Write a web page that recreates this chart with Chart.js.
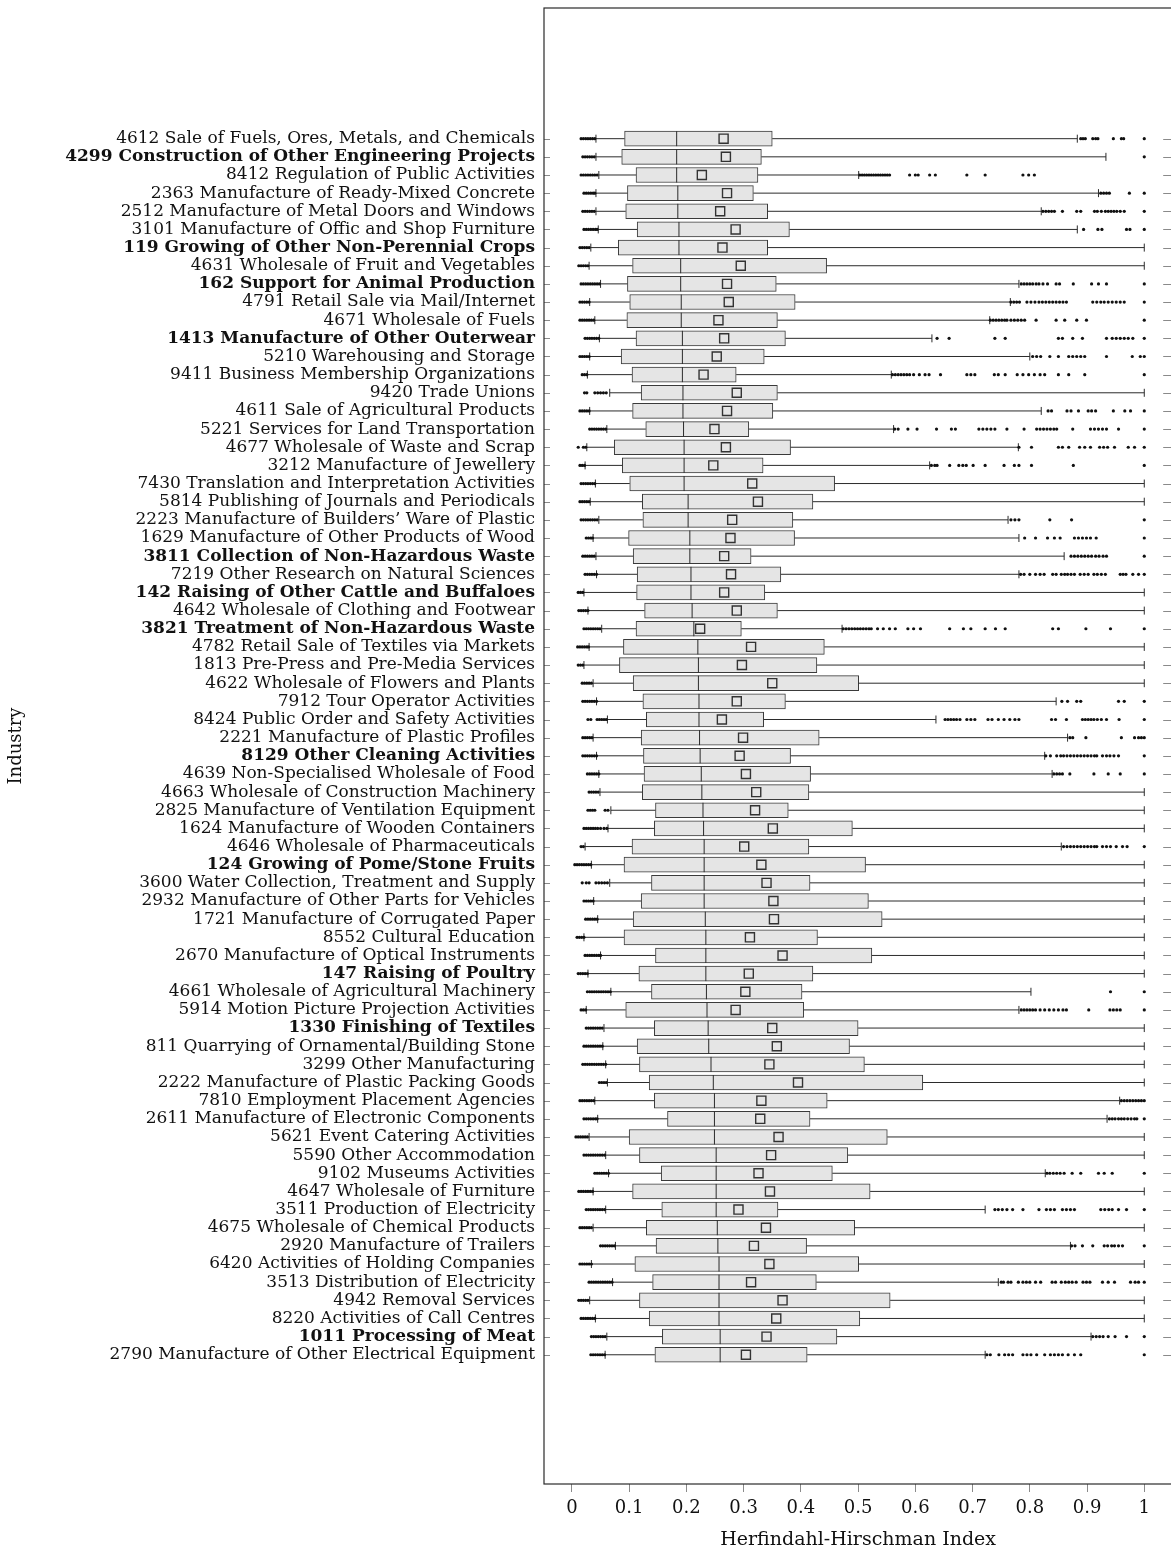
<!DOCTYPE html>
<html>
<head>
<meta charset="utf-8">
<script src="https://cdn.jsdelivr.net/npm/chart.js@4.4.1/dist/chart.umd.min.js"></script>
<style>
html, body { margin: 0; padding: 0; background: #fff; overflow: hidden; }
#wrap { width: 1180px; height: 1551px; }
canvas { display: block; }
</style>
</head>
<body>
<div id="wrap"><canvas id="c" width="1180" height="1551"></canvas></div>
<script>
const industries = [
  "4612 Sale of Fuels, Ores, Metals, and Chemicals",
  "4299 Construction of Other Engineering Projects",
  "8412 Regulation of Public Activities",
  "2363 Manufacture of Ready-Mixed Concrete",
  "2512 Manufacture of Metal Doors and Windows",
  "3101 Manufacture of Offic and Shop Furniture",
  "119 Growing of Other Non-Perennial Crops",
  "4631 Wholesale of Fruit and Vegetables",
  "162 Support for Animal Production",
  "4791 Retail Sale via Mail/Internet",
  "4671 Wholesale of Fuels",
  "1413 Manufacture of Other Outerwear",
  "5210 Warehousing and Storage",
  "9411 Business Membership Organizations",
  "9420 Trade Unions",
  "4611 Sale of Agricultural Products",
  "5221 Services for Land Transportation",
  "4677 Wholesale of Waste and Scrap",
  "3212 Manufacture of Jewellery",
  "7430 Translation and Interpretation Activities",
  "5814 Publishing of Journals and Periodicals",
  "2223 Manufacture of Builders\u2019 Ware of Plastic",
  "1629 Manufacture of Other Products of Wood",
  "3811 Collection of Non-Hazardous Waste",
  "7219 Other Research on Natural Sciences",
  "142 Raising of Other Cattle and Buffaloes",
  "4642 Wholesale of Clothing and Footwear",
  "3821 Treatment of Non-Hazardous Waste",
  "4782 Retail Sale of Textiles via Markets",
  "1813 Pre-Press and Pre-Media Services",
  "4622 Wholesale of Flowers and Plants",
  "7912 Tour Operator Activities",
  "8424 Public Order and Safety Activities",
  "2221 Manufacture of Plastic Profiles",
  "8129 Other Cleaning Activities",
  "4639 Non-Specialised Wholesale of Food",
  "4663 Wholesale of Construction Machinery",
  "2825 Manufacture of Ventilation Equipment",
  "1624 Manufacture of Wooden Containers",
  "4646 Wholesale of Pharmaceuticals",
  "124 Growing of Pome/Stone Fruits",
  "3600 Water Collection, Treatment and Supply",
  "2932 Manufacture of Other Parts for Vehicles",
  "1721 Manufacture of Corrugated Paper",
  "8552 Cultural Education",
  "2670 Manufacture of Optical Instruments",
  "147 Raising of Poultry",
  "4661 Wholesale of Agricultural Machinery",
  "5914 Motion Picture Projection Activities",
  "1330 Finishing of Textiles",
  "811 Quarrying of Ornamental/Building Stone",
  "3299 Other Manufacturing",
  "2222 Manufacture of Plastic Packing Goods",
  "7810 Employment Placement Agencies",
  "2611 Manufacture of Electronic Components",
  "5621 Event Catering Activities",
  "5590 Other Accommodation",
  "9102 Museums Activities",
  "4647 Wholesale of Furniture",
  "3511 Production of Electricity",
  "4675 Wholesale of Chemical Products",
  "2920 Manufacture of Trailers",
  "6420 Activities of Holding Companies",
  "3513 Distribution of Electricity",
  "4942 Removal Services",
  "8220 Activities of Call Centres",
  "1011 Processing of Meat",
  "2790 Manufacture of Other Electrical Equipment"
];

const boldCodes = ["4299","119","162","1413","3811","142","3821","8129","124","147","1330","1011"];

const whiskerLow = [0.042,0.042,0.047,0.042,0.042,0.046,0.033,0.030,0.050,0.031,0.040,0.048,0.031,0.027,0.066,0.031,0.061,0.026,0.023,0.041,0.032,0.047,0.037,0.042,0.043,0.021,0.028,0.052,0.030,0.021,0.037,0.043,0.062,0.037,0.043,0.047,0.049,0.068,0.063,0.023,0.034,0.066,0.038,0.045,0.021,0.050,0.028,0.068,0.025,0.056,0.054,0.059,0.062,0.040,0.045,0.030,0.059,0.064,0.037,0.059,0.037,0.076,0.034,0.071,0.031,0.041,0.061,0.058];
const q1 = [0.092,0.087,0.112,0.097,0.094,0.114,0.081,0.106,0.097,0.101,0.096,0.112,0.086,0.105,0.121,0.106,0.129,0.074,0.088,0.101,0.123,0.124,0.099,0.107,0.114,0.113,0.127,0.112,0.090,0.083,0.107,0.124,0.130,0.121,0.125,0.126,0.123,0.146,0.144,0.105,0.091,0.139,0.121,0.107,0.091,0.146,0.117,0.139,0.094,0.144,0.114,0.118,0.135,0.144,0.167,0.100,0.118,0.156,0.106,0.157,0.130,0.147,0.110,0.141,0.118,0.135,0.158,0.145];
const median = [0.183,0.183,0.183,0.185,0.185,0.187,0.187,0.190,0.190,0.191,0.191,0.193,0.193,0.193,0.194,0.194,0.195,0.196,0.196,0.196,0.203,0.203,0.206,0.206,0.208,0.208,0.210,0.213,0.220,0.221,0.221,0.222,0.222,0.223,0.224,0.226,0.227,0.229,0.230,0.231,0.231,0.231,0.231,0.233,0.234,0.234,0.234,0.235,0.236,0.238,0.239,0.243,0.247,0.249,0.249,0.249,0.252,0.252,0.252,0.252,0.254,0.255,0.257,0.257,0.257,0.257,0.259,0.259];
const mean = [0.265,0.269,0.227,0.271,0.259,0.286,0.263,0.295,0.271,0.274,0.256,0.266,0.253,0.230,0.288,0.271,0.249,0.269,0.247,0.315,0.325,0.280,0.277,0.266,0.278,0.266,0.288,0.224,0.313,0.297,0.350,0.288,0.262,0.299,0.293,0.304,0.322,0.320,0.351,0.301,0.331,0.340,0.352,0.353,0.311,0.368,0.309,0.303,0.286,0.350,0.358,0.345,0.395,0.331,0.329,0.361,0.348,0.326,0.346,0.291,0.339,0.318,0.345,0.313,0.368,0.357,0.340,0.304];
const q3 = [0.350,0.331,0.325,0.317,0.342,0.380,0.342,0.445,0.357,0.390,0.359,0.373,0.336,0.287,0.359,0.351,0.309,0.382,0.334,0.459,0.421,0.386,0.389,0.313,0.365,0.337,0.359,0.296,0.441,0.428,0.501,0.373,0.335,0.432,0.382,0.417,0.414,0.378,0.490,0.414,0.513,0.416,0.518,0.542,0.429,0.524,0.421,0.402,0.405,0.500,0.485,0.511,0.613,0.446,0.416,0.551,0.482,0.455,0.521,0.360,0.494,0.410,0.501,0.427,0.556,0.503,0.463,0.411];
const whiskerHigh = [0.883,0.933,0.501,0.920,0.820,0.883,1.0,1.0,0.781,0.766,0.730,0.629,0.800,0.558,1.0,0.820,0.562,0.780,0.625,1.0,1.0,0.762,0.781,0.860,0.781,1.0,1.0,0.472,1.0,1.0,1.0,0.846,0.636,0.866,0.826,0.839,1.0,1.0,1.0,0.855,1.0,1.0,1.0,1.0,1.0,1.0,1.0,0.802,0.781,1.0,1.0,1.0,1.0,0.957,0.935,1.0,1.0,0.827,1.0,0.722,1.0,0.871,1.0,0.745,1.0,1.0,0.907,0.722];

const lowOutliers = [
  [0.016,0.02,0.024,0.028,0.032,0.036,0.04],
  [0.019,0.023,0.027,0.031,0.035,0.039],
  [0.016,0.02,0.024,0.028,0.032,0.036,0.04,0.044],
  [0.021,0.025,0.029,0.033,0.037,0.04],
  [0.019,0.023,0.027,0.031,0.035,0.039],
  [0.021,0.025,0.029,0.033,0.037,0.041,0.044],
  [0.014,0.018,0.022,0.026,0.03],
  [0.012,0.016,0.02,0.024,0.028],
  [0.016,0.02,0.024,0.028,0.032,0.036,0.04,0.044,0.048],
  [0.014,0.018,0.022,0.026,0.03],
  [0.014,0.018,0.022,0.026,0.03,0.034,0.038],
  [0.023,0.027,0.031,0.035,0.039,0.043,0.047],
  [0.014,0.018,0.022,0.026,0.03],
  [0.018,0.022,0.026],
  [0.022,0.026,0.04,0.045,0.05,0.055,0.06],
  [0.014,0.018,0.022,0.026,0.03],
  [0.031,0.035,0.039,0.043,0.047,0.051,0.055,0.059],
  [0.011,0.02,0.024],
  [0.014,0.018,0.022],
  [0.016,0.02,0.024,0.028,0.032,0.036,0.04],
  [0.014,0.018,0.022,0.026,0.03],
  [0.016,0.02,0.024,0.028,0.032,0.036,0.04,0.044],
  [0.025,0.029,0.033,0.036],
  [0.019,0.023,0.027,0.031,0.035,0.039],
  [0.023,0.027,0.031,0.035,0.039,0.043],
  [0.011,0.015,0.019],
  [0.012,0.016,0.02,0.024,0.028],
  [0.021,0.025,0.029,0.033,0.037,0.041,0.045,0.049],
  [0.01,0.014,0.018,0.022,0.026,0.029],
  [0.011,0.015,0.019],
  [0.018,0.022,0.026,0.03,0.034],
  [0.019,0.023,0.027,0.031,0.035,0.039,0.043],
  [0.028,0.033,0.044,0.048,0.052,0.056,0.06],
  [0.019,0.023,0.027,0.031,0.035],
  [0.019,0.023,0.027,0.031,0.035,0.039,0.043],
  [0.027,0.031,0.035,0.039,0.043,0.047],
  [0.03,0.034,0.038,0.042,0.046],
  [0.028,0.032,0.036,0.04,0.058,0.063],
  [0.021,0.025,0.029,0.033,0.037,0.041,0.045,0.05,0.056,0.061],
  [0.016,0.02],
  [0.005,0.009,0.013,0.017,0.021,0.025,0.029,0.033],
  [0.018,0.025,0.03,0.042,0.047,0.052,0.057,0.062],
  [0.021,0.025,0.029,0.033,0.037],
  [0.024,0.028,0.032,0.036,0.04,0.044],
  [0.009,0.013,0.017,0.021],
  [0.023,0.027,0.031,0.035,0.039,0.043,0.047,0.05],
  [0.011,0.015,0.019,0.023,0.027],
  [0.027,0.031,0.035,0.039,0.043,0.047,0.051,0.055,0.059,0.063,0.067],
  [0.016,0.02,0.024],
  [0.025,0.029,0.033,0.037,0.041,0.045,0.049,0.053],
  [0.021,0.025,0.029,0.033,0.037,0.041,0.045,0.049,0.053],
  [0.019,0.023,0.027,0.031,0.035,0.039,0.043,0.047,0.051,0.055,0.059],
  [0.048,0.052,0.056,0.06],
  [0.014,0.018,0.022,0.026,0.03,0.034,0.038],
  [0.021,0.025,0.029,0.033,0.037,0.041,0.044],
  [0.007,0.011,0.015,0.019,0.023,0.027],
  [0.021,0.025,0.029,0.033,0.037,0.041,0.045,0.049,0.053,0.057],
  [0.04,0.044,0.048,0.052,0.056,0.06,0.064],
  [0.012,0.016,0.02,0.024,0.028,0.032,0.036],
  [0.025,0.029,0.033,0.037,0.041,0.045,0.049,0.053,0.057],
  [0.014,0.018,0.022,0.026,0.03,0.034],
  [0.05,0.054,0.058,0.062,0.066,0.07,0.074],
  [0.014,0.018,0.022,0.026,0.03,0.034],
  [0.03,0.034,0.038,0.042,0.046,0.05,0.054,0.058,0.062,0.066,0.07],
  [0.012,0.016,0.02,0.024,0.028],
  [0.016,0.02,0.024,0.028,0.032,0.036,0.04],
  [0.034,0.038,0.042,0.046,0.05,0.054,0.058],
  [0.033,0.037,0.041,0.045,0.049,0.053,0.057]
];

const highOutliers = [
  [0.889,0.893,0.897,0.91,0.915,0.919,0.946,0.96,0.964,1.0],
  [1.0],
  [0.503,0.507,0.511,0.515,0.519,0.523,0.527,0.531,0.535,0.539,0.543,0.547,0.551,0.555,0.59,0.6,0.605,0.625,0.635,0.69,0.722,0.788,0.798,0.808],
  [0.924,0.929,0.934,0.939,0.974,1.0],
  [0.823,0.828,0.833,0.838,0.843,0.857,0.882,0.889,0.913,0.918,0.925,0.932,0.937,0.942,0.947,0.952,0.958,0.965,1.0],
  [0.894,0.919,0.926,0.969,0.975,1.0],
  [],
  [],
  [0.785,0.79,0.795,0.8,0.805,0.811,0.816,0.823,0.831,0.846,0.852,0.876,0.908,0.92,0.934,1.0],
  [0.767,0.772,0.777,0.782,0.795,0.802,0.809,0.816,0.822,0.828,0.834,0.84,0.846,0.852,0.858,0.864,0.91,0.917,0.924,0.93,0.937,0.944,0.951,0.958,0.965,1.0],
  [0.731,0.736,0.741,0.746,0.751,0.756,0.76,0.767,0.773,0.779,0.785,0.791,0.811,0.846,0.861,0.882,0.899,1.0],
  [0.638,0.659,0.739,0.757,0.85,0.857,0.875,0.892,0.934,0.944,0.951,0.958,0.965,0.972,0.98,1.0],
  [0.805,0.812,0.819,0.835,0.85,0.868,0.875,0.882,0.889,0.896,0.934,0.979,0.993,1.0],
  [0.56,0.565,0.57,0.575,0.58,0.585,0.59,0.597,0.607,0.617,0.624,0.644,0.69,0.697,0.704,0.738,0.745,0.757,0.778,0.788,0.798,0.808,0.818,0.826,0.85,0.868,0.896,1.0],
  [],
  [0.832,0.838,0.865,0.872,0.885,0.902,0.908,0.915,0.946,0.966,0.976,1.0],
  [0.564,0.57,0.587,0.603,0.637,0.663,0.67,0.711,0.718,0.725,0.732,0.739,0.76,0.79,0.812,0.818,0.824,0.83,0.836,0.842,0.847,0.875,0.906,0.913,0.92,0.927,0.934,0.955,1.0],
  [0.781,0.803,0.85,0.857,0.868,0.887,0.896,0.906,0.922,0.929,0.936,0.948,0.972,0.983,1.0],
  [0.628,0.634,0.638,0.66,0.676,0.683,0.689,0.701,0.722,0.755,0.773,0.781,0.803,0.876,1.0],
  [],
  [],
  [0.767,0.774,0.781,0.835,0.873,1.0],
  [0.791,0.81,0.831,0.843,0.853,0.878,0.885,0.892,0.899,0.906,0.916,1.0],
  [0.872,0.878,0.884,0.89,0.896,0.902,0.908,0.915,0.921,0.928,0.934,1.0],
  [0.784,0.79,0.8,0.81,0.818,0.825,0.84,0.846,0.855,0.861,0.866,0.872,0.878,0.888,0.895,0.902,0.912,0.918,0.925,0.932,0.958,0.963,0.968,0.98,0.99,1.0],
  [],
  [],
  [0.474,0.479,0.484,0.489,0.494,0.499,0.504,0.509,0.514,0.519,0.523,0.534,0.544,0.555,0.565,0.587,0.597,0.609,0.66,0.684,0.697,0.722,0.74,0.757,0.84,0.85,0.898,0.941,1.0],
  [],
  [],
  [],
  [0.856,0.866,0.882,0.889,0.955,0.965,1.0],
  [0.652,0.657,0.662,0.667,0.672,0.678,0.69,0.697,0.704,0.727,0.734,0.745,0.755,0.765,0.774,0.781,0.838,0.845,0.864,0.892,0.897,0.902,0.907,0.912,0.918,0.925,0.934,0.956,1.0],
  [0.87,0.875,0.898,0.96,0.983,0.99,0.995,1.0],
  [0.828,0.836,0.847,0.854,0.859,0.865,0.871,0.877,0.883,0.889,0.895,0.901,0.907,0.913,0.917,0.927,0.934,0.94,0.947,0.955,1.0],
  [0.842,0.847,0.852,0.857,0.87,0.912,0.937,0.958,1.0],
  [],
  [],
  [],
  [0.859,0.865,0.871,0.877,0.883,0.889,0.895,0.901,0.907,0.913,0.917,0.927,0.934,0.941,0.951,0.962,0.97,1.0],
  [],
  [],
  [],
  [],
  [],
  [],
  [],
  [0.941,1.0],
  [0.785,0.79,0.795,0.8,0.805,0.81,0.818,0.826,0.834,0.842,0.85,0.858,0.864,0.903,0.94,0.946,0.952,0.958,1.0],
  [],
  [],
  [],
  [],
  [0.96,0.965,0.97,0.975,0.98,0.985,0.99,0.995,1.0],
  [0.939,0.944,0.949,0.955,0.96,0.965,0.971,0.977,0.983,0.987,1.0],
  [],
  [],
  [0.83,0.835,0.841,0.847,0.853,0.86,0.874,0.889,0.92,0.93,0.944,1.0],
  [],
  [0.739,0.745,0.752,0.76,0.77,0.788,0.816,0.829,0.836,0.843,0.857,0.864,0.871,0.878,0.924,0.931,0.938,0.944,0.955,0.969,1.0],
  [],
  [0.873,0.879,0.892,0.91,0.93,0.936,0.943,0.948,0.955,0.962,1.0],
  [],
  [0.75,0.754,0.762,0.767,0.78,0.788,0.794,0.8,0.81,0.819,0.839,0.845,0.855,0.862,0.868,0.874,0.881,0.893,0.899,0.905,0.927,0.937,0.948,0.976,0.984,0.99,1.0],
  [],
  [],
  [0.91,0.916,0.922,0.928,0.937,0.949,0.969,1.0],
  [0.725,0.731,0.746,0.756,0.763,0.77,0.788,0.795,0.802,0.812,0.826,0.836,0.843,0.85,0.857,0.867,0.878,0.889,1.0]
];

const xTickValues = [0, 0.1, 0.2, 0.3, 0.4, 0.5, 0.6, 0.7, 0.8, 0.9, 1];
const xTitle = "Herfindahl-Hirschman Index";
const yTitle = "Industry";

const FONT = "'DejaVu Serif', 'Liberation Serif', serif";
const isBold = (i) => boldCodes.includes((industries[i] || "").split(" ")[0]);

const boxData = industries.map((_, i) => ({ y: i, x: [q1[i], q3[i]] }));
const meanData = industries.map((_, i) => ({ x: mean[i], y: i }));
const outlierData = [];
industries.forEach((_, i) => {
  lowOutliers[i].forEach(v => outlierData.push({ x: v, y: i }));
  highOutliers[i].forEach(v => outlierData.push({ x: v, y: i }));
});

const BOX_H = 15;

const boxParts = {
  id: 'boxParts',
  afterDatasetDraw(chart, args) {
    if (args.index !== 0) return;
    const { ctx, scales: { x, y } } = chart;
    ctx.save();
    ctx.strokeStyle = '#2b2b2b';
    ctx.lineWidth = 1;
    industries.forEach((_, i) => {
      const yc = y.getPixelForValue(i);
      const xl = x.getPixelForValue(whiskerLow[i]);
      const x1 = x.getPixelForValue(q1[i]);
      const x3 = x.getPixelForValue(q3[i]);
      const xh = x.getPixelForValue(whiskerHigh[i]);
      const xm = x.getPixelForValue(median[i]);
      ctx.beginPath();
      ctx.moveTo(xl, yc); ctx.lineTo(x1, yc);
      ctx.moveTo(x3, yc); ctx.lineTo(xh, yc);
      ctx.moveTo(xl, yc - 4); ctx.lineTo(xl, yc + 4);
      ctx.moveTo(xh, yc - 4); ctx.lineTo(xh, yc + 4);
      ctx.moveTo(xm, yc - BOX_H / 2); ctx.lineTo(xm, yc + BOX_H / 2);
      ctx.stroke();
    });
    ctx.restore();
  },
  afterDraw(chart) {
    const { ctx, chartArea: a, scales: { y } } = chart;
    ctx.save();
    ctx.strokeStyle = '#8a8a8a';
    ctx.lineWidth = 1;
    ctx.beginPath();
    industries.forEach((_, i) => {
      const yc = Math.round(y.getPixelForValue(i)) + 0.5;
      ctx.moveTo(a.left, yc); ctx.lineTo(a.left + 6, yc);
      ctx.moveTo(a.right - 9, yc); ctx.lineTo(a.right, yc);
    });
    ctx.stroke();
    ctx.strokeStyle = '#2a2a2a';
    ctx.lineWidth = 1.2;
    ctx.strokeRect(a.left, a.top, a.right - a.left, a.bottom - a.top);
    ctx.restore();
  }
};

new Chart(document.getElementById('c'), {
  type: 'bar',
  data: {
    datasets: [
      {
        type: 'bar',
        indexAxis: 'y',
        data: boxData,
        backgroundColor: '#e5e5e5',
        borderColor: '#3a3a3a',
        borderWidth: 1,
        borderSkipped: false,
        barThickness: BOX_H,
        order: 3
      },
      {
        type: 'scatter',
        data: outlierData,
        pointStyle: 'circle',
        pointRadius: 1.6,
        pointHoverRadius: 1.6,
        pointBackgroundColor: '#111',
        pointBorderWidth: 0,
        showLine: false,
        order: 2
      },
      {
        type: 'scatter',
        data: meanData,
        pointStyle: 'rect',
        pointRadius: 6.4,
        pointHoverRadius: 6.4,
        pointBackgroundColor: '#e5e5e5',
        pointBorderColor: '#333',
        pointBorderWidth: 1.4,
        showLine: false,
        order: 1
      }
    ]
  },
  options: {
    responsive: false,
    devicePixelRatio: 1,
    animation: false,
    events: [],
    layout: { padding: { left: 0, top: 8, right: 6, bottom: 0 } },
    plugins: { legend: { display: false }, tooltip: { enabled: false } },
    scales: {
      x: {
        type: 'linear',
        position: 'bottom',
        offset: false,
        min: -0.0488,
        max: 1.0488,
        afterBuildTicks: (s) => { s.ticks = xTickValues.map(v => ({ value: v })); },
        afterFit: (s) => { s.height = 67; s.paddingLeft = 0; s.paddingRight = 0; },
        border: { display: false },
        grid: { display: true, offset: false, drawOnChartArea: false, drawTicks: true, tickLength: 8, color: '#8a8a8a', lineWidth: 1 },
        ticks: {
          color: '#111',
          padding: 6,
          autoSkip: false,
          maxRotation: 0,
          font: { family: FONT, size: 18 },
          callback: (v) => (v === 0 || v === 1) ? String(v) : v.toFixed(1)
        },
        title: { display: true, text: xTitle, color: '#111', font: { family: FONT, size: 19 }, padding: { top: 0, bottom: 0 } }
      },
      y: {
        type: 'linear',
        position: 'left',
        reverse: true,
        offset: false,
        min: -7.2,
        max: 74.12,
        afterBuildTicks: (s) => { s.ticks = industries.map((_, i) => ({ value: i })); },
        afterFit: (s) => { s.width = 544; s.paddingTop = 0; s.paddingBottom = 0; },
        border: { display: false },
        grid: { display: false, offset: false, drawTicks: false, tickLength: 0 },
        ticks: {
          color: '#111',
          padding: 9,
          autoSkip: false,
          font: (ctx) => ({ family: FONT, size: 17, weight: (ctx.tick && isBold(ctx.tick.value)) ? 'bold' : 'normal' }),
          callback: (v) => industries[v] !== undefined ? industries[v] : ''
        },
        title: { display: true, text: yTitle, color: '#111', font: { family: FONT, size: 18 }, padding: { top: 6, bottom: 0 } }
      }
    }
  },
  plugins: [boxParts]
});
</script>
</body>
</html>
